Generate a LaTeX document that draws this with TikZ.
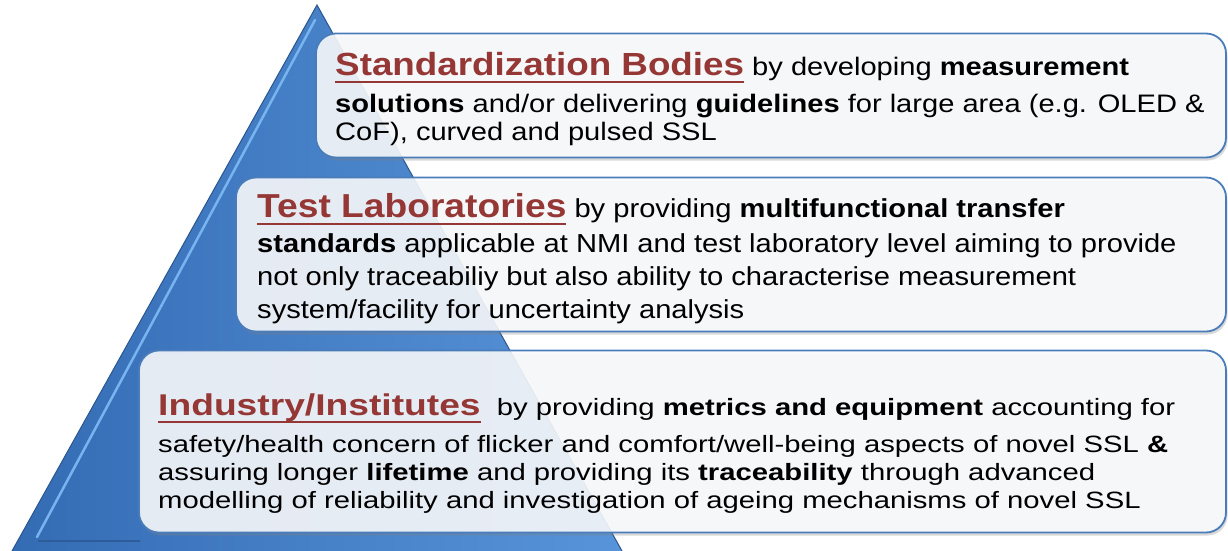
\documentclass[tikz,border=0pt]{standalone}
\usepackage{fontspec}
\setmainfont{Liberation Sans}
\newfontfamily\stdfont[FakeStretch=1.15]{Liberation Sans}
\newfontfamily\labfont[FakeStretch=1.12]{Liberation Sans}
\newfontfamily\indfont[FakeStretch=1.24]{Liberation Sans}
\usetikzlibrary{shadows}
\definecolor{pyrdark}{RGB}{52,108,180}
\definecolor{pyrlight}{RGB}{88,148,218}
\definecolor{pyrhigh}{RGB}{120,180,240}
\definecolor{boxline}{RGB}{74,124,186}
\definecolor{boxfill}{RGB}{250,251,253}
\definecolor{titlered}{RGB}{149,55,53}
\newsavebox{\titlebox}
\newcommand{\tiertitle}[2]{{\fontsize{#1}{#1}\selectfont\bfseries\color{titlered}\sbox{\titlebox}{#2}\rlap{\rule[-8pt]{\wd\titlebox}{2.5pt}}\usebox{\titlebox}}}
\begin{document}
\begin{tikzpicture}[x=1pt,y=-1pt,
    tierbox/.style={draw=boxline, line width=1.8pt, rounded corners=20pt, fill=boxfill, fill opacity=0.88,
      drop shadow={opacity=0.3, shadow xshift=1.5pt, shadow yshift=-3pt}},
    tiertext/.style={anchor=north west, align=left, inner sep=0pt}]
    \useasboundingbox (0,0) rectangle (1228,551);
    % pyramid
    \shade[left color=pyrdark, right color=pyrlight] (317,5) -- (622,551) -- (12,551) -- cycle;
    \draw[pyrdark!80!black, line width=1pt] (12,551) -- (317,5) -- (622,551);
    \draw[pyrhigh, line width=2.5pt, line cap=round] (315,20) -- (37,537);
    \draw[pyrdark!85!black, line width=1.2pt] (38,541) -- (140,541);

    \node[tierbox, minimum width=910pt, minimum height=124pt] (stdbox) at (771,95.5) {};
    \node[tierbox, minimum width=990pt, minimum height=154pt] (labbox) at (731,254.5) {};
    \node[tierbox, minimum width=1087pt, minimum height=182pt] (indbox) at (682.5,441.5) {};

    \node[tiertext, font=\stdfont\fontsize{25.3}{28}\selectfont] (stdtext) at (335,52.1) {\tiertitle{32}{Standardization Bodies} by developing \textbf{measurement}\\[9pt]
      \textbf{solutions} and/or delivering \textbf{guidelines} for large area (e.g. OLED \&\\
      CoF), curved and pulsed SSL};
    \node[tiertext, font=\labfont\fontsize{26}{33}\selectfont] (labtext) at (257,193.2) {\tiertitle{33.2}{Test Laboratories} by providing \textbf{multifunctional transfer}\\[2pt]
      \textbf{standards} applicable at NMI and test laboratory level aiming to provide\\
      not only traceabiliy but also ability to characterise measurement\\
      system/facility for uncertainty analysis};
    \node[tiertext, font=\indfont\fontsize{23.6}{28}\selectfont] (indtext) at (158,393.5) {\tiertitle{30}{Industry/Institutes}\ \ by providing \textbf{metrics and equipment} accounting for\\[9pt]
      safety/health concern of flicker and comfort/well-being aspects of novel SSL \textbf{\&}\\
      assuring longer \textbf{lifetime} and providing its \textbf{traceability} through advanced\\
      modelling of reliability and investigation of ageing mechanisms of novel SSL};
\end{tikzpicture}
\end{document}
